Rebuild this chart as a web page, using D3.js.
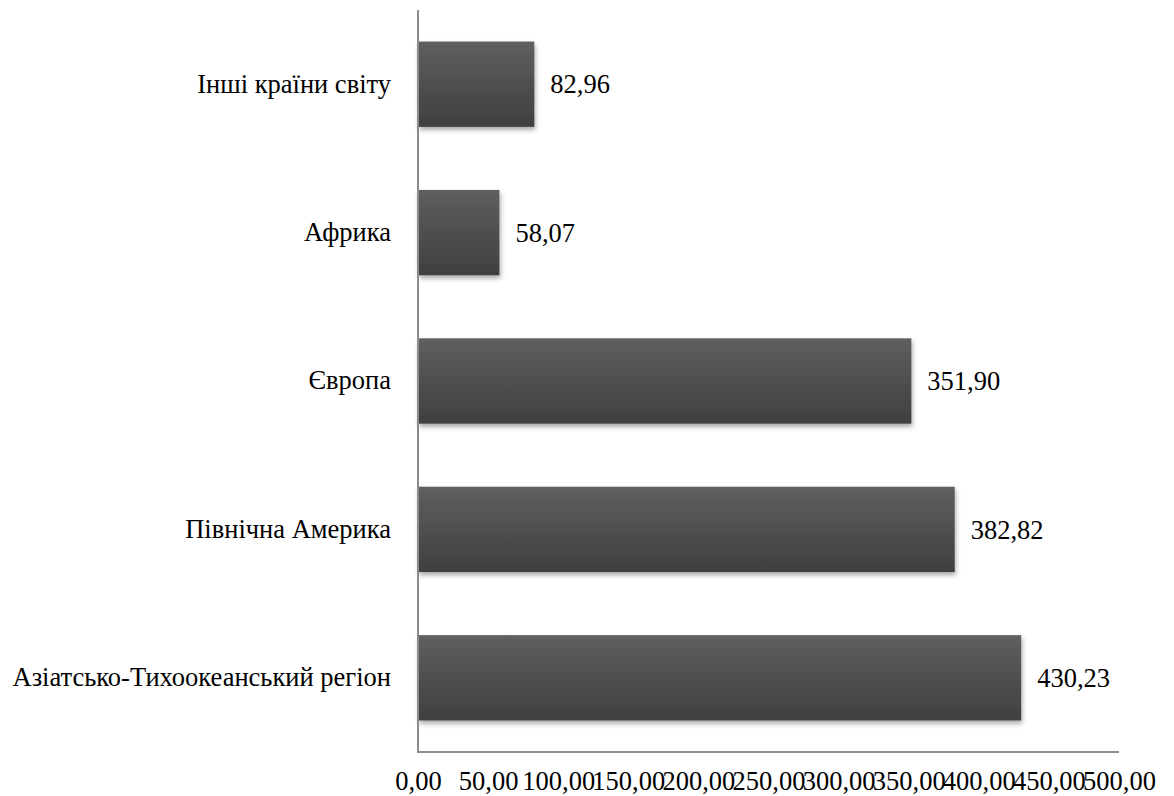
<!DOCTYPE html>
<html lang="uk">
<head>
  <meta charset="UTF-8">
  <title>Chart</title>
  <style>
    body { margin: 0; background: #fff; }
    svg text { font-family: "Liberation Serif", "Times New Roman", serif; font-size: 26.5px; fill: #000; }
  </style>
</head>
<body>
  <svg id="chart" width="1174" height="796"></svg>
  <script src="https://d3js.org/d3.v7.min.js"></script>
  <script>
    // data, top to bottom
    const regions = ["Інші країни світу", "Африка", "Європа", "Північна Америка", "Азіатсько-Тихоокеанський регіон"];
    const values = [82.96, 58.07, 351.90, 382.82, 430.23];
    const xTicks = [0, 50, 100, 150, 200, 250, 300, 350, 400, 450, 500];

    const fmt = v => v.toFixed(2).replace(".", ",");

    const plotLeft = 418, plotRight = 1119, plotTop = 10, plotBottom = 752;
    const svg = d3.select("#chart");

    const defs = svg.append("defs");
    const grad = defs.append("linearGradient")
      .attr("id", "barGrad").attr("x1", 0).attr("y1", 0).attr("x2", 0).attr("y2", 1);
    grad.append("stop").attr("offset", "0%").attr("stop-color", "#5f5f5f");
    grad.append("stop").attr("offset", "100%").attr("stop-color", "#3f3f3f");
    const shadow = defs.append("filter").attr("id", "shadow")
      .attr("x", "-5%").attr("y", "-10%").attr("width", "115%").attr("height", "130%");
    shadow.append("feDropShadow").attr("dx", 1).attr("dy", 3).attr("stdDeviation", 2.5)
      .attr("flood-color", "#000").attr("flood-opacity", 0.35);

    const x = d3.scaleLinear().domain([0, 500]).range([plotLeft, plotRight]);
    const y = d3.scaleBand().domain(regions).range([plotTop, plotBottom]).paddingInner(0.425).paddingOuter(0.2125);

    svg.append("g").selectAll("rect")
      .data(regions)
      .enter()
      .append("rect")
      .attr("x", x(0))
      .attr("y", d => y(d))
      .attr("width", (d, i) => x(values[i]) - x(0))
      .attr("height", y.bandwidth())
      .attr("fill", "url(#barGrad)")
      .attr("filter", "url(#shadow)");

    // value labels
    svg.append("g").selectAll("text")
      .data(regions)
      .enter()
      .append("text")
      .attr("x", (d, i) => x(values[i]) + 16)
      .attr("y", d => y(d) + y.bandwidth() / 2)
      .attr("dy", "0.35em")
      .text((d, i) => fmt(values[i]));

    // category labels
    const yAxis = d3.axisLeft(y).tickSize(0).tickPadding(27);
    const gy = svg.append("g").attr("transform", `translate(${plotLeft},0)`).call(yAxis);
    gy.select(".domain").remove();

    const xAxis = d3.axisBottom(x).tickValues(xTicks).tickSize(0).tickPadding(19).tickFormat(fmt);
    const gx = svg.append("g").attr("transform", `translate(0,${plotBottom})`).call(xAxis);
    gx.select(".domain").remove();

    // axis lines
    svg.append("line").attr("x1", plotLeft).attr("x2", plotLeft).attr("y1", plotTop).attr("y2", plotBottom + 1)
      .attr("stroke", "#8c8c8c").attr("stroke-width", 2);
    svg.append("line").attr("x1", plotLeft).attr("x2", plotRight).attr("y1", plotBottom).attr("y2", plotBottom)
      .attr("stroke", "#8c8c8c").attr("stroke-width", 2);
  </script>
</body>
</html>
